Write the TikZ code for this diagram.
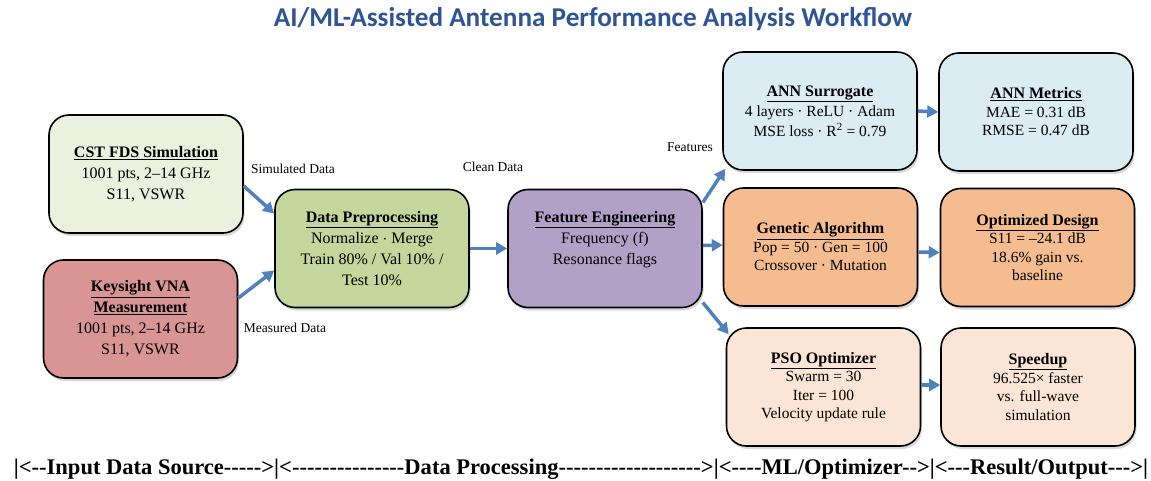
\documentclass[tikz,border=0pt]{standalone}
\usepackage{fontspec}
\setmainfont{Liberation Serif}
\newfontfamily\titlefont{Carlito}
\usetikzlibrary{arrows.meta,shadows,calc}
\definecolor{arrowblue}{RGB}{79,129,189}
\definecolor{titleblue}{RGB}{47,84,150}
\definecolor{cstfill}{RGB}{235,241,222}
\definecolor{keyfill}{RGB}{217,149,148}
\definecolor{prefill}{RGB}{195,214,155}
\definecolor{featfill}{RGB}{178,161,199}
\definecolor{annfill}{RGB}{219,236,243}
\definecolor{gafill}{RGB}{245,189,143}
\definecolor{psofill}{RGB}{251,229,214}
\newcommand\hd[1]{{\fontsize{16}{19}\selectfont\underline{\textbf{#1}}}}
\newcommand\hdl[1]{{\fontsize{16}{21}\selectfont\underline{\textbf{#1}}}}
\newcommand\dashes[1]{\foreach \i in {1,...,#1}{-\kern0pt}}
\begin{document}
\begin{tikzpicture}[x=1pt,y=-1pt,
  box/.style={draw, line width=1.6pt, rounded corners=20pt, minimum width=194pt,
    minimum height=118pt, align=center, inner sep=0pt,
    font=\fontsize{16}{21}\selectfont,
    drop shadow={shadow xshift=1.5pt, shadow yshift=-3pt, opacity=0.3}},
  rbox/.style={box, font=\fontsize{15.5}{18.5}\selectfont},
  flow/.style={draw=arrowblue, line width=3.5pt, -{Triangle[length=11pt,width=12pt]}},
  lbl/.style={font=\fontsize{13.5}{16}\selectfont, inner sep=0pt}]
\useasboundingbox (0,0) rectangle (1151,481);

\node[font=\titlefont\bfseries\fontsize{27.2}{30}\selectfont, text=titleblue, anchor=base, inner sep=0pt]
  (title) at (593,27) {AI/ML-Assisted Antenna Performance Analysis Workflow};

\node[box, fill=cstfill] (cst) at (146,174) {\hdl{CST FDS Simulation}\\1001 pts, 2--14 GHz\\S11, VSWR};
\node[box, fill=keyfill] (key) at (140.5,319) {\hdl{Keysight VNA}\\\hdl{Measurement}\\1001 pts, 2--14 GHz\\S11, VSWR};
\node[box, fill=prefill] (pre) at (372,248.5) {\hdl{Data Preprocessing}\\Normalize $\cdot$ Merge\\Train 80\% / Val 10\% /\\Test 10\%};
\node[box, fill=featfill] (feat) at (605,248.5) {\hdl{Feature Engineering}\\Frequency (f)\\Resonance flags\\\mbox{}};

\node[rbox, fill=annfill, font=\fontsize{15.5}{20}\selectfont] (ann) at (820,111) {\hd{ANN Surrogate}\\4 layers · ReLU · Adam\\MSE loss · R\textsuperscript{2} = 0.79};
\node[rbox, fill=annfill] (met) at (1036,112) {\hd{ANN Metrics}\\MAE = 0.31 dB\\RMSE = 0.47 dB};
\node[rbox, fill=gafill] (ga) at (820.5,247) {\hd{Genetic Algorithm}\\Pop = 50 · Gen = 100\\Crossover · Mutation};
\node[rbox, fill=gafill] (opt) at (1037.5,247.5) {\hd{Optimized Design}\\S11 = --24.1 dB\\18.6\% gain vs.\\baseline};
\node[rbox, fill=psofill] (pso) at (823.5,387) {\hd{PSO Optimizer}\\Swarm = 30\\Iter = 100\\Velocity update rule};
\node[rbox, fill=psofill] (spd) at (1038,387) {\hd{Speedup}\\96.525× faster\\vs. full-wave\\simulation};

\draw[flow] ([yshift=-12pt]cst.east) -- ([yshift=35pt]pre.west);
\draw[flow] ([yshift=21pt]key.east) -- ([yshift=-22pt]pre.west);
\draw[flow] (pre.east) -- (feat.west);
\draw[flow] ([yshift=46pt]feat.east) -- ([xshift=3pt,yshift=2pt]ann.south west);
\draw[flow] ([yshift=3pt]feat.east) -- ([yshift=2pt]ga.west);
\draw[flow] ([yshift=-54pt]feat.east) -- ([xshift=3pt,yshift=-7pt]pso.north west);
\draw[flow] (ann.east) -- (met.west);
\draw[flow] ([yshift=-5pt]ga.east) -- ([yshift=-5pt]opt.west);
\draw[flow] ([yshift=2pt]pso.east) -- ([yshift=2pt]spd.west);

\node[lbl] (lsim) at (293,169) {Simulated Data};
\node[lbl] (lmeas) at (285,328) {Measured Data};
\node[lbl] (lclean) at (493,167) {Clean Data};
\node[lbl] (lfeat) at (690,147) {Features};

\node[anchor=base, inner sep=0pt] (legend) at (581,474) {\resizebox{1134pt}{15.5pt}{\fontsize{19}{22}\selectfont\bfseries
|<\dashes{2}Input Data Source\dashes{5}>|<\dashes{15}Data Processing\dashes{19}>|<\dashes{4}ML/Optimizer\dashes{2}>|<\dashes{3}Result/Output\dashes{3}>|}};
\end{tikzpicture}
\end{document}
